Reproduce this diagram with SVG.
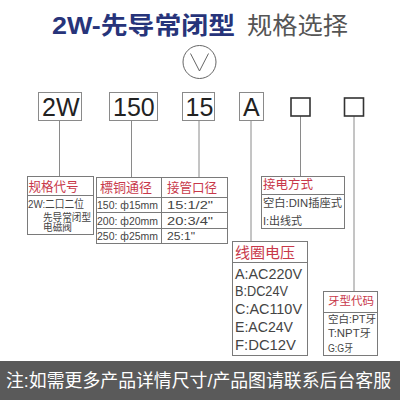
<svg xmlns="http://www.w3.org/2000/svg" width="400" height="400" viewBox="0 0 400 400">
<style>
text{font-family:"Liberation Sans","Noto Sans CJK SC",sans-serif}
.code{fill:none;stroke:#8a8a8a;stroke-width:1}
.ctext{font-size:25px;fill:#222}
.sq{fill:#fff;stroke:#333;stroke-width:1.6}
.box{fill:#fff;stroke:#7a7a7a;stroke-width:1}
.hd{fill:#c8384a}
.bd{fill:#444}
.conn line{stroke:#8a8a8a;stroke-width:1}
</style>
<rect width="400" height="400" fill="#fff"/>
<g id="title">
<text x="52" y="34" font-size="24" font-weight="bold" fill="#27347a" textLength="183" lengthAdjust="spacingAndGlyphs">2W-先导常闭型</text>
<text x="247" y="34" font-size="24" fill="#555" textLength="101" lengthAdjust="spacingAndGlyphs">规格选择</text>
<circle cx="199.5" cy="62" r="16.5" fill="none" stroke="#666" stroke-width="1"/>
<polyline points="190.5,53.5 199.5,71 208.5,53.5" fill="none" stroke="#666" stroke-width="1"/>
</g>
<g class="conn" id="connectors">
<line x1="59.5" y1="120" x2="59.5" y2="176"/>
<line x1="131.5" y1="120" x2="131.5" y2="177"/>
<line x1="199" y1="120" x2="199" y2="177"/>
<line x1="251" y1="120" x2="251" y2="241"/>
<line x1="300.5" y1="116" x2="300.5" y2="176"/>
<line x1="354" y1="116" x2="354" y2="291"/>
</g>
<g id="code-2W"><rect class="code" x="38.5" y="92.5" width="43" height="28"/><text class="ctext" x="42" y="116">2W</text></g>
<g id="code-150"><rect class="code" x="109.5" y="92.5" width="48" height="28"/><text class="ctext" x="113" y="116">150</text></g>
<g id="code-15"><rect class="code" x="182.5" y="92.5" width="32" height="28"/><text class="ctext" x="185.5" y="116">15</text></g>
<g id="code-A"><rect class="code" x="239.5" y="92.5" width="24" height="28"/><text class="ctext" x="243" y="116">A</text></g>
<g id="code-sq1"><rect class="sq" x="291" y="98" width="19" height="18"/></g>
<g id="code-sq2"><rect class="sq" x="344.5" y="98" width="19" height="18"/></g>

<g id="spec">
<rect class="box" x="27.5" y="176.5" width="66" height="58"/>
<line x1="27.5" y1="195.5" x2="93.5" y2="195.5" stroke="#7a7a7a"/>
<text class="hd" x="28.5" y="190.5" font-size="13" textLength="50" lengthAdjust="spacingAndGlyphs">规格代号</text>
<text class="bd" x="28" y="208" font-size="11" textLength="56" lengthAdjust="spacingAndGlyphs">2W:二口二位</text>
<text class="bd" x="43" y="221" font-size="10" textLength="48" lengthAdjust="spacingAndGlyphs">先导常闭型</text>
<text class="bd" x="43" y="231" font-size="10" textLength="29" lengthAdjust="spacingAndGlyphs">电磁阀</text>
</g>
<g id="size-table">
<rect class="box" x="96.5" y="177.5" width="131" height="66"/>
<line x1="96.5" y1="197.5" x2="227.5" y2="197.5" stroke="#7a7a7a"/>
<line x1="96.5" y1="212.5" x2="227.5" y2="212.5" stroke="#7a7a7a"/>
<line x1="96.5" y1="228.5" x2="227.5" y2="228.5" stroke="#7a7a7a"/>
<line x1="161.5" y1="177.5" x2="161.5" y2="243.5" stroke="#7a7a7a"/>
<text class="hd" x="100" y="192" font-size="13" textLength="52" lengthAdjust="spacingAndGlyphs">標铜通径</text>
<text class="hd" x="167" y="192" font-size="13" textLength="50" lengthAdjust="spacingAndGlyphs">接管口径</text>
<text class="bd" x="97" y="208.5" font-size="11.5" textLength="61" lengthAdjust="spacingAndGlyphs">150: ф15mm</text>
<text class="bd" x="97" y="224.5" font-size="11.5" textLength="61" lengthAdjust="spacingAndGlyphs">200: ф20mm</text>
<text class="bd" x="97" y="240" font-size="11.5" textLength="61" lengthAdjust="spacingAndGlyphs">250: ф25mm</text>
<text class="bd" x="167" y="208.5" font-size="11.5" textLength="46" lengthAdjust="spacingAndGlyphs">15:1/2"</text>
<text class="bd" x="167" y="224.5" font-size="11.5" textLength="46" lengthAdjust="spacingAndGlyphs">20:3/4"</text>
<text class="bd" x="167" y="240" font-size="11.5" textLength="28" lengthAdjust="spacingAndGlyphs">25:1"</text>
</g>
<g id="wiring">
<rect class="box" x="261.5" y="176.5" width="83" height="52"/>
<line x1="261.5" y1="194.5" x2="344.5" y2="194.5" stroke="#7a7a7a"/>
<text class="hd" x="263" y="189" font-size="12.5" textLength="50" lengthAdjust="spacingAndGlyphs">接电方式</text>
<text class="bd" x="263" y="207" font-size="11" textLength="79" lengthAdjust="spacingAndGlyphs">空白:DIN插座式</text>
<text class="bd" x="263" y="225" font-size="11" textLength="39" lengthAdjust="spacingAndGlyphs">I:出线式</text>
</g>
<g id="voltage">
<rect class="box" x="232.5" y="241.5" width="75" height="114"/>
<line x1="232.5" y1="262.5" x2="307.5" y2="262.5" stroke="#7a7a7a"/>
<text class="hd" x="235" y="257.5" font-size="15" textLength="60" lengthAdjust="spacingAndGlyphs">线圈电压</text>
<text class="bd" x="235" y="278.5" font-size="14.5" textLength="67" lengthAdjust="spacingAndGlyphs">A:AC220V</text>
<text class="bd" x="235" y="296" font-size="14.5" textLength="53" lengthAdjust="spacingAndGlyphs">B:DC24V</text>
<text class="bd" x="235" y="314" font-size="14.5" textLength="67" lengthAdjust="spacingAndGlyphs">C:AC110V</text>
<text class="bd" x="235" y="331.5" font-size="14.5" textLength="58" lengthAdjust="spacingAndGlyphs">E:AC24V</text>
<text class="bd" x="235" y="349.5" font-size="14.5" textLength="61" lengthAdjust="spacingAndGlyphs">F:DC12V</text>
</g>
<g id="thread">
<rect class="box" x="323.5" y="291.5" width="54" height="64"/>
<line x1="323.5" y1="312.5" x2="377.5" y2="312.5" stroke="#7a7a7a"/>
<text class="hd" x="328" y="304.5" font-size="11.5" textLength="46" lengthAdjust="spacingAndGlyphs">牙型代码</text>
<text class="bd" x="328" y="323" font-size="10.5" textLength="48" lengthAdjust="spacingAndGlyphs">空白:PT牙</text>
<text class="bd" x="328" y="336.5" font-size="10.5" textLength="43" lengthAdjust="spacingAndGlyphs">T:NPT牙</text>
<text class="bd" x="328" y="351.5" font-size="10.5" textLength="25" lengthAdjust="spacingAndGlyphs">G:G牙</text>
</g>
<g id="footer">
<rect x="0" y="361" width="400" height="39" fill="#5a5a5a"/>
<text x="6" y="386.5" font-size="18" fill="#fff" textLength="385" lengthAdjust="spacingAndGlyphs">注:如需更多产品详情尺寸/产品图请联系后台客服</text>
</g>
</svg>
